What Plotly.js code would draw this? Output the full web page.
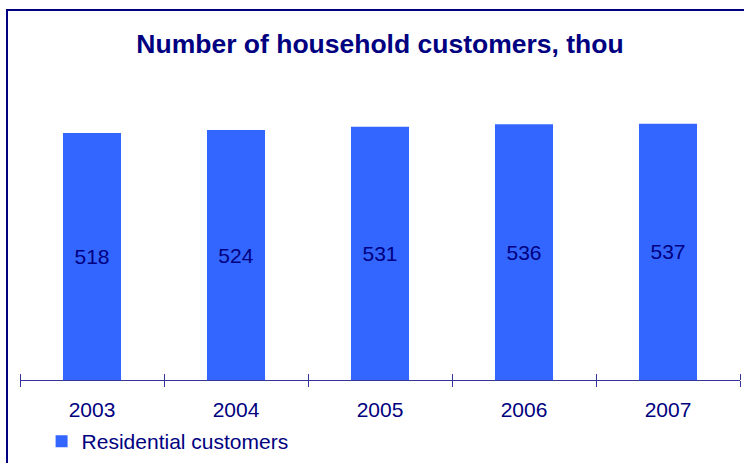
<!DOCTYPE html>
<html>
<head>
<meta charset="utf-8">
<script src="https://cdn.plot.ly/plotly-3.0.1.min.js"></script>
<style>
  html, body { margin: 0; padding: 0; background: #fff; }
  #wrap { position: relative; width: 744px; height: 463px; overflow: hidden; }
  #chart { position: absolute; left: 0; top: 0; width: 744px; height: 463px; }
  #frame { position: absolute; left: 6px; top: 9px; width: 760px; height: 480px;
           border-left: 2px solid #000080; border-top: 2px solid #000080; pointer-events: none; }
</style>
</head>
<body>
<div id="wrap">
  <div id="chart"></div>
  <div id="frame"></div>
</div>
<script>
const years = ['2003', '2004', '2005', '2006', '2007'];
const customers = [518, 524, 531, 536, 537];
const seriesName = 'Residential customers';
const chartTitle = 'Number of household customers, thou';

const navy = '#000080';
const axisColor = '#333399';
const font = 'Arial, "Liberation Sans", sans-serif';

const trace = {
  type: 'bar',
  x: years,
  y: customers,
  name: seriesName,
  marker: { color: '#3366FF', line: { width: 0 } },
  text: customers.map(String),
  textposition: 'inside',
  insidetextanchor: 'middle',
  textangle: 0,
  textfont: { family: font, size: 21, color: navy },
  hoverinfo: 'skip',
  showlegend: true
};

// invisible copy on a second x axis, only used to draw the upper half of the crossing ticks
const ghost = {
  type: 'bar',
  x: years,
  y: customers,
  xaxis: 'x2',
  marker: { color: 'rgba(0,0,0,0)' },
  showlegend: false,
  hoverinfo: 'skip'
};

const layout = {
  width: 744,
  height: 463,
  margin: { l: 20, r: 4, t: 100, b: 83, autoexpand: false },
  paper_bgcolor: '#ffffff',
  plot_bgcolor: '#ffffff',
  bargap: 0.597,
  title: {
    text: '<b>' + chartTitle + '</b>',
    font: { family: font, size: 26.5, color: navy },
    x: 0.5, xref: 'paper', xanchor: 'center',
    y: 0.905, yref: 'container', yanchor: 'middle'
  },
  xaxis: {
    type: 'category',
    showline: true,
    linecolor: axisColor,
    linewidth: 1,
    ticks: 'outside',
    tickson: 'boundaries',
    ticklen: 6,
    tickcolor: axisColor,
    tickwidth: 1,
    ticklabelstandoff: 11,
    tickfont: { family: font, size: 21, color: navy },
    showgrid: false,
    zeroline: false,
    fixedrange: true,
    automargin: false
  },
  xaxis2: {
    type: 'category',
    overlaying: 'x',
    anchor: 'free',
    position: 0,
    side: 'top',
    showline: false,
    ticks: 'outside',
    tickson: 'boundaries',
    ticklen: 6,
    tickcolor: axisColor,
    tickwidth: 1,
    showticklabels: false,
    showgrid: false,
    zeroline: false,
    fixedrange: true,
    automargin: false
  },
  yaxis: {
    visible: false,
    range: [0, 587],
    showgrid: false,
    zeroline: false,
    fixedrange: true
  },
  showlegend: true,
  legend: {
    orientation: 'h',
    x: 0.03, xanchor: 'left',
    y: -0.22, yanchor: 'middle',
    font: { family: font, size: 21, color: navy },
    bgcolor: 'rgba(0,0,0,0)',
    itemwidth: 30
  }
};

Plotly.newPlot('chart', [trace, ghost], layout, { displayModeBar: false, staticPlot: true });
</script>
</body>
</html>
